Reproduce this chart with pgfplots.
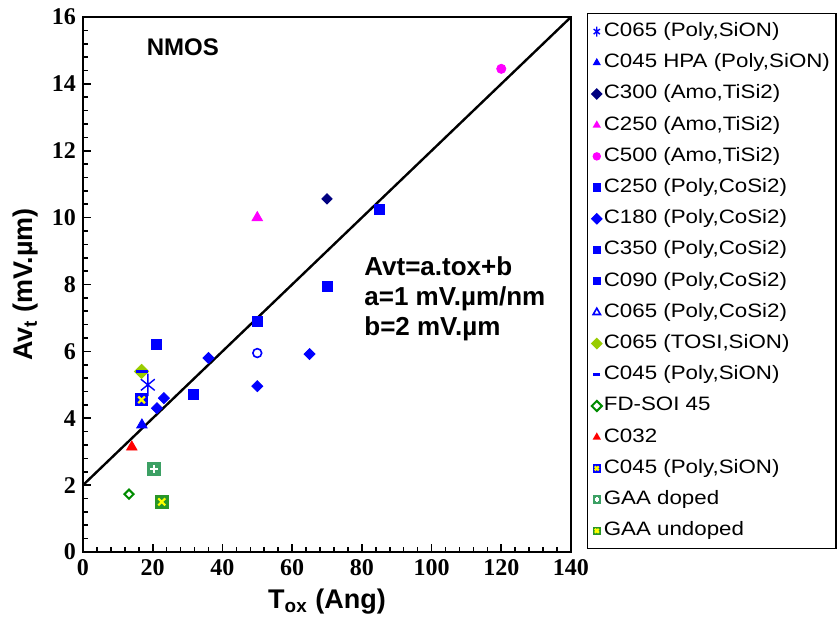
\documentclass[border=0pt]{standalone}
\usepackage{pgfplots}
\pgfplotsset{compat=1.18}
\usepackage{fontspec}
\setmainfont{Liberation Sans}
\newfontfamily\tickfont{Liberation Serif}
\newfontfamily\legfont[FakeStretch=1.15]{Liberation Sans}
\definecolor{navy}{RGB}{0,0,128}
\definecolor{mblue}{RGB}{0,0,255}
\definecolor{mmag}{RGB}{255,0,255}
\definecolor{ygreen}{RGB}{153,204,0}
\definecolor{fdgreen}{RGB}{0,140,0}
\definecolor{gaagreen}{RGB}{60,160,100}
\definecolor{gaau}{RGB}{40,150,40}
\definecolor{xyellow}{RGB}{255,255,0}

\pgfdeclareplotmark{sqcross}{%
  \pgfpathrectangle{\pgfqpoint{-\pgfplotmarksize}{-\pgfplotmarksize}}{\pgfqpoint{2\pgfplotmarksize}{2\pgfplotmarksize}}%
  \pgfusepathqfillstroke
  \begin{pgfscope}%
  \pgfsetstrokecolor{xyellow}%
  \pgfsetlinewidth{1.1pt}%
  \pgfpathmoveto{\pgfqpoint{-0.55\pgfplotmarksize}{-0.55\pgfplotmarksize}}%
  \pgfpathlineto{\pgfqpoint{0.55\pgfplotmarksize}{0.55\pgfplotmarksize}}%
  \pgfpathmoveto{\pgfqpoint{-0.55\pgfplotmarksize}{0.55\pgfplotmarksize}}%
  \pgfpathlineto{\pgfqpoint{0.55\pgfplotmarksize}{-0.55\pgfplotmarksize}}%
  \pgfusepathqstroke
  \end{pgfscope}%
}
\pgfdeclareplotmark{sqplus}{%
  \pgfpathrectangle{\pgfqpoint{-\pgfplotmarksize}{-\pgfplotmarksize}}{\pgfqpoint{2\pgfplotmarksize}{2\pgfplotmarksize}}%
  \pgfusepathqfillstroke
  \begin{pgfscope}%
  \pgfsetstrokecolor{white}%
  \pgfsetlinewidth{1.1pt}%
  \pgfpathmoveto{\pgfqpoint{-0.6\pgfplotmarksize}{0pt}}%
  \pgfpathlineto{\pgfqpoint{0.6\pgfplotmarksize}{0pt}}%
  \pgfpathmoveto{\pgfqpoint{0pt}{0.6\pgfplotmarksize}}%
  \pgfpathlineto{\pgfqpoint{0pt}{-0.6\pgfplotmarksize}}%
  \pgfusepathqstroke
  \end{pgfscope}%
}

\pgfplotsset{mk/.style={only marks,
  legend image code/.code={\draw[mark repeat=2,mark phase=2,##1,mark size=1.8pt] plot coordinates {(0cm,0cm)(0.12cm,0cm)(0.24cm,0cm)};}}}

\begin{document}
\begin{tikzpicture}
\begin{axis}[
  name=ax,
  scale only axis, width=244pt, height=267.5pt,
  xmin=0, xmax=140, ymin=0, ymax=16,
  xtick={0,20,...,140}, ytick={0,2,...,16},
  minor x tick num=4, minor y tick num=4,
  tick align=inside, xtick pos=bottom, ytick pos=left,
  major tick length=4pt, minor tick length=2.5pt,
  axis line style={line width=1pt},
  every tick/.style={black, line width=0.8pt},
  ticklabel style={font=\tickfont\bfseries\fontsize{12}{12}\selectfont},
  /pgf/number format/assume math mode=true,
  xlabel={T\textsubscript{ox} (Ang)},
  ylabel={Av\textsubscript{t} (mV.µm)},
  label style={font=\bfseries\fontsize{13.5}{13.5}\selectfont},
  legend cell align=left,
  legend style={at={(1.033,1.0075)}, anchor=north west, draw=black, line width=0.6pt,
    font=\legfont\fontsize{9.7}{11}\selectfont,
    nodes={inner sep=1pt, text height=7pt, text depth=2pt},
    row sep=4.6pt, inner xsep=2pt, inner ysep=3.5pt},
]
\addplot[black, line width=1.2pt, forget plot] coordinates {(0,2) (140,16)};

\addplot[mk, mblue, mark=asterisk, mark size=4pt, mark options={yscale=1.4, line width=0.7pt}] coordinates {(18.6,5.0)};
\addlegendentry{C065 (Poly,SiON)}
\addplot[mk, mblue, mark=triangle*, mark size=3pt] coordinates {(16.9,3.8)};
\addlegendentry{C045 HPA (Poly,SiON)}
\addplot[mk, navy, mark=square*, mark size=1.8pt, mark options={rotate=45}] coordinates {(70,10.56)};
\addlegendentry{C300 (Amo,TiSi2)}
\addplot[mk, mmag, mark=triangle*, mark size=3pt] coordinates {(50,10.0)};
\addlegendentry{C250 (Amo,TiSi2)}
\addplot[mk, mmag, mark=*, mark size=2.3pt] coordinates {(120,14.45)};
\addlegendentry{C500 (Amo,TiSi2)}
\addplot[mk, mblue, mark=square*, mark size=2.5pt] coordinates {(50,6.9) (70,7.95)};
\addlegendentry{C250 (Poly,CoSi2)}
\addplot[mk, mblue, mark=square*, mark size=1.95pt, mark options={rotate=45}] coordinates {(36,5.8) (65,5.92) (50,4.96) (23.2,4.6) (21.2,4.3)};
\addlegendentry{C180 (Poly,CoSi2)}
\addplot[mk, mblue, mark=square*, mark size=2.5pt] coordinates {(85,10.26)};
\addlegendentry{C350 (Poly,CoSi2)}
\addplot[mk, mblue, mark=square*, mark size=2.5pt] coordinates {(21,6.2) (31.8,4.72)};
\addlegendentry{C090 (Poly,CoSi2)}
\addplot[mk, mblue, mark=o, mark size=2.2pt, mark options={line width=0.8pt},
  legend image code/.code={\draw[mblue, mark=triangle, mark size=2.1pt, line width=0.6pt] plot coordinates {(0.12cm,0cm)};}] coordinates {(50,5.95)};
\addlegendentry{C065 (Poly,CoSi2)}
\addplot[mk, ygreen, mark=square*, mark size=2.5pt, mark options={rotate=45}] coordinates {(16.8,5.4)};
\addlegendentry{C065 (TOSI,SiON)}
\addplot[mk, mblue, mark=-, mark size=3pt, mark options={line width=1.5pt}] coordinates {(16.8,5.4)};
\addlegendentry{C045 (Poly,SiON)}
\addplot[mk, fdgreen, mark=square, mark size=1.6pt, mark options={rotate=45, line width=1pt}] coordinates {(13.2,1.73)};
\addlegendentry{FD-SOI 45}
\addplot[mk, red, mark=triangle*, mark size=3pt] coordinates {(14,3.14)};
\addlegendentry{C032}
\addplot[mk, mblue, mark=sqcross, mark size=3pt, mark options={fill=mblue}] coordinates {(16.8,4.55)};
\addlegendentry{C045 (Poly,SiON)}
\addplot[mk, gaagreen, mark=sqplus, mark size=3.2pt, mark options={fill=gaagreen}] coordinates {(20.3,2.48)};
\addlegendentry{GAA doped}
\addplot[mk, gaau, mark=sqcross, mark size=3.2pt, mark options={fill=gaau}] coordinates {(22.6,1.5)};
\addlegendentry{GAA undoped}

\node[anchor=west, font=\bfseries\fontsize{12}{12}\selectfont] at (axis cs:16.3,15.1) {NMOS};
\node[anchor=west, align=left, font=\bfseries\fontsize{13}{15}\selectfont] at (axis cs:78.7,7.57) {Avt=a.tox+b\\a=1 mV.µm/nm\\b=2 mV.µm};
\end{axis}
\pgfresetboundingbox
\path (ax.south west) ++(-41.5pt,-37.5pt) rectangle ++(418.5pt,313.5pt);
\end{tikzpicture}
\end{document}
